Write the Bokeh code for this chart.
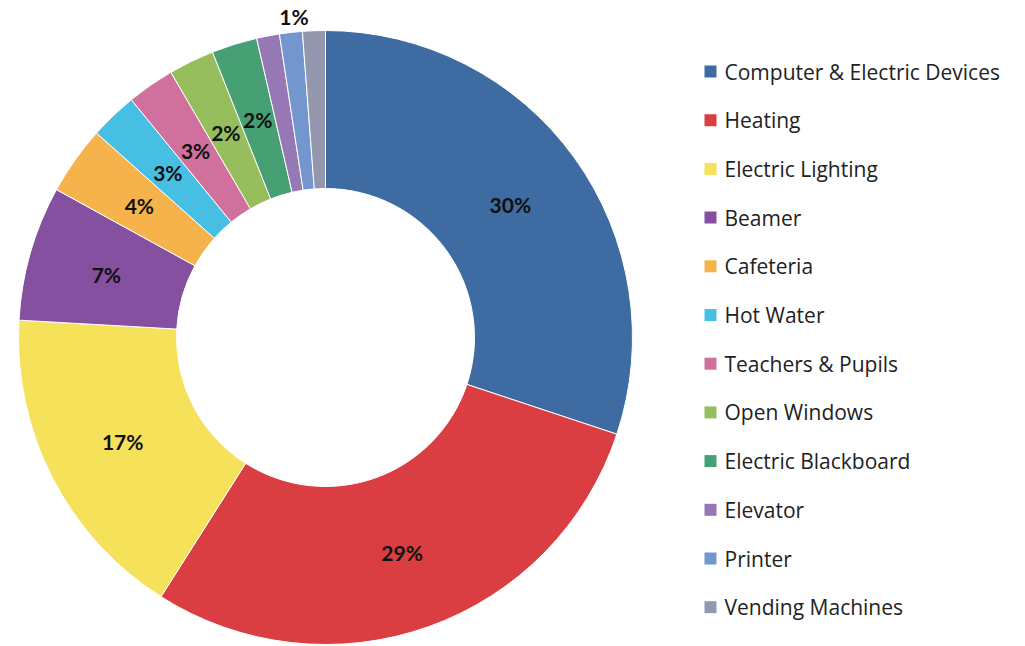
import math
from bokeh.plotting import figure
from bokeh.models import Range1d, ColumnDataSource
from bokeh.core.properties import value
from bokeh.embed import file_html
from bokeh.resources import INLINE

categories = ["Computer & Electric Devices", "Heating", "Electric Lighting", "Beamer",
              "Cafeteria", "Hot Water", "Teachers & Pupils", "Open Windows",
              "Electric Blackboard", "Elevator", "Printer", "Vending Machines"]
shares = [30.1, 28.9, 16.9, 7.1, 3.6, 2.5, 2.5, 2.4, 2.4, 1.2, 1.2, 1.2]
labels = ["30%", "29%", "17%", "7%", "4%", "3%", "3%", "2%", "2%", "", "", "1%"]
colors = ["#3E6BA1", "#DA3E43", "#F6E15B", "#84509F", "#F6B34B", "#46BFE3",
          "#D0719D", "#97BE5C", "#479F74", "#9578B4", "#7496CE", "#9498AE"]

W, H = 1025, 646
CX, CY = 325, H - 337
R_OUT, R_IN = 307, 149

p = figure(width=W, height=H, x_range=Range1d(0, W), y_range=Range1d(0, H),
           output_backend="svg", toolbar_location=None, min_border=0)
p.axis.visible = False
p.grid.visible = False
p.outline_line_color = None
p.background_fill_color = "white"

total = sum(shares)
starts, ends, mids = [], [], []
cum = 0.0
for s in shares:
    a0 = math.pi / 2 - 2 * math.pi * cum / total
    cum += s
    a1 = math.pi / 2 - 2 * math.pi * cum / total
    starts.append(a0)
    ends.append(a1)
    mids.append((a0 + a1) / 2)

src = ColumnDataSource(dict(start=starts, end=ends, color=colors))
p.annular_wedge(x=CX, y=CY, inner_radius=R_IN, outer_radius=R_OUT,
                start_angle="start", end_angle="end", direction="clock",
                fill_color="color", line_color="white", line_width=1, source=src)

# slice labels
R_MID = (R_IN + R_OUT) / 2
lx, ly, lt = [], [], []
for i, lab in enumerate(labels):
    if not lab:
        continue
    if i == len(labels) - 1:
        r = R_OUT + 16
        ang = mids[i] + 0.06
    else:
        r = R_MID
        ang = mids[i]
    lx.append(CX + r * math.cos(ang))
    ly.append(CY + r * math.sin(ang))
    lt.append(lab)
p.text(x=lx, y=ly, text=lt, text_font=value("Lato"), text_font_style="bold",
       text_font_size="21px", text_color="#111111", text_align="center",
       text_baseline="middle")

# legend
LEG_X, LEG_TOP, LEG_STEP = 710, H - 71, 48.7
gy = [LEG_TOP - i * LEG_STEP for i in range(len(categories))]
p.rect(x=[LEG_X] * len(categories), y=gy, width=12, height=12,
       fill_color=colors, line_color=None)
p.text(x=[LEG_X + 14] * len(categories), y=gy, text=categories,
       text_font=value("Open Sans"), text_font_size="21px", text_color="#222222",
       text_align="left", text_baseline="middle")

open("out.html", "w").write(file_html(p, INLINE))
